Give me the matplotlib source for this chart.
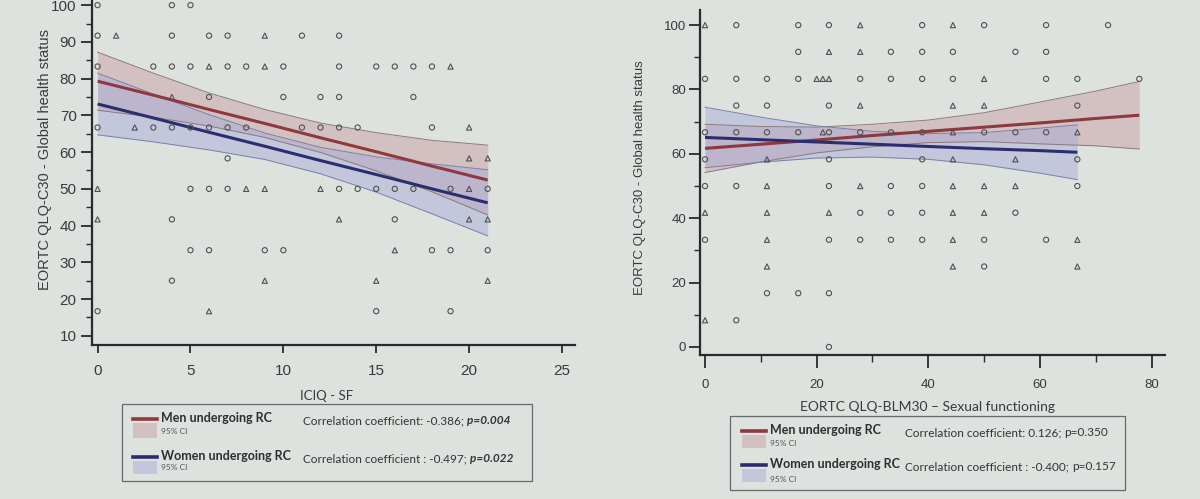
import matplotlib
matplotlib.use('Agg')
import matplotlib.pyplot as plt
from matplotlib.patches import Rectangle
from matplotlib.lines import Line2D

BG = '#dde2de'

# ---------------- Left panel: ICIQ-SF vs global health status ----------------
left_men_x = [0, 4, 5,
              0, 4, 6, 7, 11, 13,
              0, 3, 4, 5, 7, 8, 10, 13, 15, 16, 17, 18,
              6, 10, 12, 13, 17,
              0, 3, 4, 5, 6, 7, 8, 11, 12, 13, 14, 18,
              7,
              5, 6, 7, 13, 14, 15, 16, 17, 19, 21,
              4, 16,
              5, 6, 9, 10, 18, 19, 21,
              4,
              0, 15, 19]
left_men_y = [100, 100, 100,
              91.7, 91.7, 91.7, 91.7, 91.7, 91.7,
              83.3, 83.3, 83.3, 83.3, 83.3, 83.3, 83.3, 83.3, 83.3, 83.3, 83.3, 83.3,
              75, 75, 75, 75, 75,
              66.7, 66.7, 66.7, 66.7, 66.7, 66.7, 66.7, 66.7, 66.7, 66.7, 66.7, 66.7,
              58.3,
              50, 50, 50, 50, 50, 50, 50, 50, 50, 50,
              41.7, 41.7,
              33.3, 33.3, 33.3, 33.3, 33.3, 33.3, 33.3,
              25,
              16.7, 16.7, 16.7]
left_wom_x = [1, 9, 6, 9, 19, 4, 2, 20, 20, 21, 0, 8, 9, 12, 20,
              0, 13, 20, 21, 16, 9, 15, 21, 6]
left_wom_y = [91.7, 91.7, 83.3, 83.3, 83.3, 75, 66.7, 66.7, 58.3, 58.3, 50, 50, 50, 50, 50,
              41.7, 41.7, 41.7, 41.7, 33.3, 25, 25, 25, 16.7]

left_band_x = [0, 3, 6, 9, 12, 15, 18, 21]
left_men_fit = [79.3, 75.5, 71.6, 67.8, 63.9, 60.1, 56.2, 52.4]
left_men_hi = [87.2, 81.5, 76.1, 71.6, 67.9, 65.3, 63.2, 61.9]
left_men_lo = [71.4, 69.5, 67.1, 64.0, 59.9, 54.9, 49.2, 42.9]
left_wom_fit = [73.1, 69.3, 65.4, 61.6, 57.7, 53.9, 50.0, 46.2]
left_wom_hi = [81.5, 75.8, 70.2, 65.2, 61.3, 58.7, 56.8, 55.2]
left_wom_lo = [64.7, 62.8, 60.6, 58.0, 54.1, 49.1, 43.2, 37.2]

# ---------------- Right panel: BLM30 sexual functioning ----------------
right_men_x = [5.6, 16.7, 22.2, 38.9, 50.0, 61.1, 72.2,
               16.7, 33.3, 38.9, 44.4, 55.6, 61.1,
               0, 5.6, 11.1, 16.7, 27.8, 33.3, 38.9, 44.4, 61.1, 66.7, 77.8,
               5.6, 11.1, 22.2, 66.7,
               0, 5.6, 11.1, 16.7, 22.2, 27.8, 33.3, 38.9, 50.0, 55.6, 61.1,
               0, 22.2, 38.9, 66.7,
               0, 5.6, 22.2, 33.3, 38.9, 66.7,
               27.8, 33.3, 38.9, 55.6,
               0, 22.2, 27.8, 33.3, 38.9, 50.0, 61.1,
               50.0,
               11.1, 16.7, 22.2,
               5.6,
               22.2]
right_men_y = [100, 100, 100, 100, 100, 100, 100,
               91.7, 91.7, 91.7, 91.7, 91.7, 91.7,
               83.3, 83.3, 83.3, 83.3, 83.3, 83.3, 83.3, 83.3, 83.3, 83.3, 83.3,
               75, 75, 75, 75,
               66.7, 66.7, 66.7, 66.7, 66.7, 66.7, 66.7, 66.7, 66.7, 66.7, 66.7,
               58.3, 58.3, 58.3, 58.3,
               50, 50, 50, 50, 50, 50,
               41.7, 41.7, 41.7, 41.7,
               33.3, 33.3, 33.3, 33.3, 33.3, 33.3, 33.3,
               25,
               16.7, 16.7, 16.7,
               8.3,
               0]
right_wom_x = [0, 27.8, 44.4,
               22.2, 27.8,
               20.0, 21.1, 22.2, 50.0,
               27.8, 44.4, 50.0,
               21.1, 44.4, 66.7,
               11.1, 44.4, 55.6,
               11.1, 27.8, 44.4, 50.0, 55.6,
               0, 11.1, 22.2, 44.4, 50.0,
               11.1, 44.4, 66.7,
               11.1, 44.4, 66.7,
               0]
right_wom_y = [100, 100, 100,
               91.7, 91.7,
               83.3, 83.3, 83.3, 83.3,
               75, 75, 75,
               66.7, 66.7, 66.7,
               58.3, 58.3, 58.3,
               50, 50, 50, 50, 50,
               41.7, 41.7, 41.7, 41.7, 41.7,
               33.3, 33.3, 33.3,
               25, 25, 25,
               8.3]

right_men_band_x = [0, 10, 20, 30, 40, 50, 60, 70, 77.8]
right_men_fit = [61.7, 63.0, 64.3, 65.7, 67.0, 68.3, 69.6, 71.0, 72.0]
right_men_hi = [69.2, 68.5, 68.3, 69.2, 70.5, 72.8, 76.1, 79.5, 82.5]
right_men_lo = [54.2, 57.5, 60.3, 62.2, 63.5, 63.8, 63.1, 62.5, 61.5]
right_wom_band_x = [0, 10, 20, 30, 40, 50, 60, 66.7]
right_wom_fit = [65.1, 64.4, 63.7, 63.0, 62.3, 61.6, 61.0, 60.5]
right_wom_hi = [74.5, 71.4, 68.7, 67.0, 66.3, 66.6, 68.0, 69.0]
right_wom_lo = [55.7, 57.4, 58.7, 59.0, 58.3, 56.6, 54.0, 52.0]

left_xticks = [0, 5, 10, 15, 20, 25]
left_yticks = [10, 20, 30, 40, 50, 60, 70, 80, 90, 100]
left_yminor = [15, 25, 35, 45, 55, 65, 75, 85, 95]
right_xticks = [0, 20, 40, 60, 80]
right_xminor = [10, 30, 50, 70]
right_yticks = [0, 20, 40, 60, 80, 100]
right_yminor = [10, 30, 50, 70, 90]

MEN_LINE = '#8c3a40'
WOM_LINE = '#2b2e6c'
MEN_FILL = '#c99aa0'
WOM_FILL = '#a2a8d8'
PT = '#505050'
AX = '#2a2a2a'
TXT = '#3a3a3a'

fig = plt.figure(figsize=(12, 4.99), dpi=100, facecolor=BG)


def fx(px):
    return px / 1200.0


def fy(py):
    return 1 - py / 499.0


def style(ax, lab):
    ax.set_facecolor('none')
    for s in ('top', 'right'):
        ax.spines[s].set_visible(False)
    for s in ('left', 'bottom'):
        ax.spines[s].set_color(AX)
        ax.spines[s].set_linewidth(1.6)
    ax.tick_params(which='major', direction='out', length=8, width=1.3, color=AX,
                   labelcolor=TXT, labelsize=lab)
    ax.tick_params(which='minor', direction='out', length=4, width=1.0, color=AX)
    for t in ax.get_xticklabels() + ax.get_yticklabels():
        t.set_family('Liberation Sans')


def panel(ax, mx, my, wx, wy, mbx, mfit, mlo, mhi, wbx, wfit, wlo, whi):
    ax.fill_between(mbx, mlo, mhi, color=MEN_FILL, alpha=0.45, lw=0, zorder=1)
    ax.fill_between(wbx, wlo, whi, color=WOM_FILL, alpha=0.45, lw=0, zorder=1)
    ax.plot(mbx, mlo, color='#8a7a80', lw=0.7, zorder=1.5)
    ax.plot(mbx, mhi, color='#8a7a80', lw=0.7, zorder=1.5)
    ax.plot(wbx, wlo, color='#7c80a6', lw=0.7, zorder=1.5)
    ax.plot(wbx, whi, color='#7c80a6', lw=0.7, zorder=1.5)
    ax.plot(mbx, mfit, color=MEN_LINE, lw=2.2, zorder=2, solid_capstyle='butt')
    ax.plot(wbx, wfit, color=WOM_LINE, lw=2.2, zorder=2, solid_capstyle='butt')
    ax.scatter(mx, my, marker='o', s=14, facecolors='none', edgecolors=PT,
               linewidths=0.8, zorder=3)
    ax.scatter(wx, wy, marker='^', s=14, facecolors='none', edgecolors=PT,
               linewidths=0.8, zorder=3)


# ---- left axes ----
axL = fig.add_axes([fx(92), fy(345), (575 - 92) / 1200, 345 / 499])
panel(axL, left_men_x, left_men_y, left_wom_x, left_wom_y,
      left_band_x, left_men_fit, left_men_lo, left_men_hi,
      left_band_x, left_wom_fit, left_wom_lo, left_wom_hi)
axL.set_xlim(-0.3, 25.7)
axL.set_ylim(7.5, 101.4)
axL.set_xticks(left_xticks)
axL.set_yticks(left_yticks)
axL.set_yticks(left_yminor, minor=True)
style(axL, 11)
axL.tick_params(axis='x', which='major', length=6, pad=8)
axL.tick_params(axis='y', which='major', pad=3)

# ---- right axes ----
axR = fig.add_axes([fx(700), fy(355), (1165 - 700) / 1200, 345 / 499])
panel(axR, right_men_x, right_men_y, right_wom_x, right_wom_y,
      right_men_band_x, right_men_fit, right_men_lo, right_men_hi,
      right_wom_band_x, right_wom_fit, right_wom_lo, right_wom_hi)
axR.set_xlim(-0.9, 82.4)
axR.set_ylim(-2.5, 104.7)
axR.set_xticks(right_xticks)
axR.set_xticks(right_xminor, minor=True)
axR.set_yticks(right_yticks)
axR.set_yticks(right_yminor, minor=True)
style(axR, 9.5)
axR.tick_params(axis='x', which='major', pad=8, length=9)
axR.tick_params(axis='x', which='minor', length=5)
axR.tick_params(axis='y', which='major', pad=2)

# ---- axis titles ----
fig.text(fx(45), fy(160), 'EORTC QLQ-C30 - Global health status', rotation=90,
         ha='center', va='center', fontsize=10.5, color=TXT, family='Liberation Sans')
fig.text(fx(640), fy(178), 'EORTC QLQ-C30 - Global health status', rotation=90,
         ha='center', va='center', fontsize=9.5, color=TXT, family='Liberation Sans')
fig.text(fx(327), fy(396), 'ICIQ - SF', ha='center', va='center', fontsize=9.5,
         color=TXT, family='Lato')
fig.text(fx(927), fy(407), 'EORTC QLQ-BLM30 \u2013 Sexual functioning', ha='center',
         va='center', fontsize=10, color=TXT, family='Lato')

renderer = fig.canvas.get_renderer()


def legend(box, line_x, rows, corr_x, italic_p):
    x0, y0, x1, y1 = box
    fig.add_artist(Rectangle((fx(x0), fy(y1)), fx(x1 - x0), (y1 - y0) / 499.0,
                             transform=fig.transFigure, fill=False,
                             edgecolor='#6a6a6a', lw=0.9))
    for (col, fill, ly, sw0, sw1, name, ci_y, corr, pval) in rows:
        fig.add_artist(Line2D([fx(line_x), fx(line_x + 24)], [fy(ly), fy(ly)],
                              transform=fig.transFigure, color=col, lw=2.6))
        fig.add_artist(Rectangle((fx(line_x), fy(sw1)), fx(24), (sw1 - sw0) / 499.0,
                                 transform=fig.transFigure, color=fill, alpha=0.45,
                                 lw=0))
        fig.text(fx(line_x + 28), fy(ly - 1), name, ha='left', va='center',
                 fontsize=9, color='#2e2e2e', family='Lato', weight='bold')
        fig.text(fx(line_x + 28), fy(ci_y), '95% CI', ha='left', va='center',
                 fontsize=6, color='#555555', family='Lato')
        t = fig.text(fx(corr_x), fy(ly + 2), corr, ha='left', va='center',
                     fontsize=8.5, color='#333333', family='Lato')
        bb = t.get_window_extent(renderer=renderer)
        fig.text(bb.x1 / fig.bbox.width, fy(ly + 2), pval, ha='left', va='center',
                 fontsize=8.5, color='#333333', family='Lato',
                 style='italic' if italic_p else 'normal',
                 weight='bold' if italic_p else 'normal')


legend((122, 404, 532, 481), 133,
       [(MEN_LINE, MEN_FILL, 419, 423, 438, 'Men undergoing RC', 431,
         'Correlation coefficient: -0.386; ', 'p=0.004'),
        (WOM_LINE, WOM_FILL, 457, 461, 474, 'Women undergoing RC', 467,
         'Correlation coefficient : -0.497; ', 'p=0.022')],
       303, True)
legend((730, 416, 1125, 490), 742,
       [(MEN_LINE, MEN_FILL, 431, 435, 448, 'Men undergoing RC', 444,
         'Correlation coefficient: 0.126; ', 'p=0.350'),
        (WOM_LINE, WOM_FILL, 465, 469, 482, 'Women undergoing RC', 479,
         'Correlation coefficient : -0.400; ', 'p=0.157')],
       905, False)

fig.savefig('out.png', dpi=100, facecolor=BG)
